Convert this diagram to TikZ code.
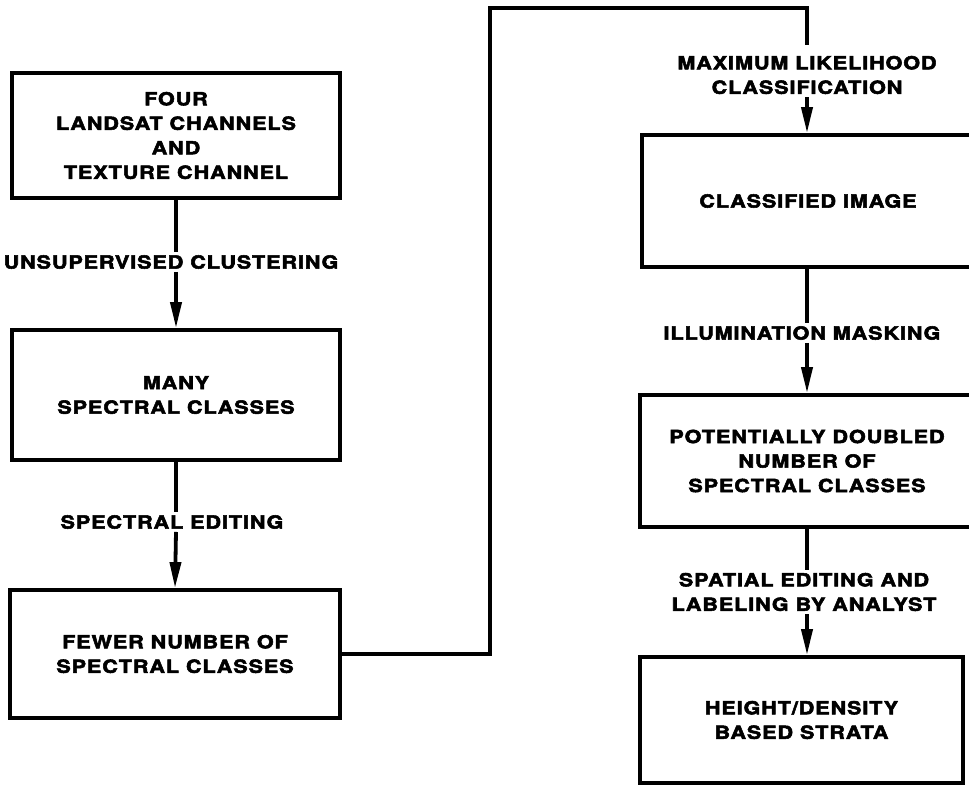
\documentclass[tikz,border=0pt]{standalone}
\usepackage{fontspec}
\setmainfont{TeX Gyre Heros}[FakeStretch=1.2,LetterSpace=5,FakeBold=3]
\usetikzlibrary{arrows.meta}
\begin{document}
\begin{tikzpicture}[x=1pt,y=-1pt,
  every node/.style={font=\bfseries\fontsize{18}{24.5}\selectfont},
  box/.style={draw, line width=3.8pt, inner sep=0pt, align=center},
  lab/.style={inner sep=3pt, align=center},
  conn/.style={line width=3.8pt},
  arr/.style={conn, -{Triangle[length=26pt,width=11pt]}}]
\useasboundingbox (0,0) rectangle (969,787);
% left column boxes
\node[box, minimum width=328pt, minimum height=125pt] (b1) at (176,135.5) {FOUR\\LANDSAT CHANNELS\\AND\\TEXTURE CHANNEL};
\node[box, minimum width=328pt, minimum height=130pt] (b2) at (176,395) {MANY\\SPECTRAL CLASSES};
\node[box, minimum width=330pt, minimum height=128pt] (b3) at (175,654) {FEWER NUMBER OF\\SPECTRAL CLASSES};
% right column boxes
\node[box, minimum width=332pt, minimum height=132pt] (b4) at (808,201) {CLASSIFIED IMAGE};
\node[box, minimum width=334pt, minimum height=132pt] (b5) at (807,461) {POTENTIALLY DOUBLED\\NUMBER OF\\SPECTRAL CLASSES};
\node[box, minimum width=323pt, minimum height=126pt] (b6) at (801.5,720) {HEIGHT/DENSITY\\BASED STRATA};
% labels
\node[lab] (l1) at (171,262) {UNSUPERVISED CLUSTERING};
\node[lab] (l2) at (172,522) {SPECTRAL EDITING};
\node[lab] (l3) at (807,75) {MAXIMUM LIKELIHOOD\\CLASSIFICATION};
\node[lab] (l4) at (802,333) {ILLUMINATION MASKING};
\node[lab] (l5) at (804,592) {SPATIAL EDITING AND\\LABELING BY ANALYST};
% coordinates
\coordinate (c2) at (490,8);
\coordinate (c3) at (807,8);
% left connectors
\draw[conn] (b1.south) -- (b1.south |- l1.north);
\draw[arr] (b1.south |- l1.south) -- (b2.north);
\draw[conn] (b2.south) -- (b2.south |- l2.north);
\draw[arr] (b2.south |- l2.south) -- (b3.north);
% long connector
\draw[conn, line join=miter] (b3.east) -| (c2) -- (c3) -- ([yshift=8pt]c3 |- l3.north);
\draw[arr] (c3 |- l3.south) -- (c3 |- b4.north);
\draw[conn] (c3 |- b4.south) -- (c3 |- l4.north);
\draw[arr] (c3 |- l4.south) -- (c3 |- b5.north);
\draw[conn] (c3 |- b5.south) -- (c3 |- l5.north);
\draw[arr] (c3 |- l5.south) -- (c3 |- b6.north);
\end{tikzpicture}
\end{document}
